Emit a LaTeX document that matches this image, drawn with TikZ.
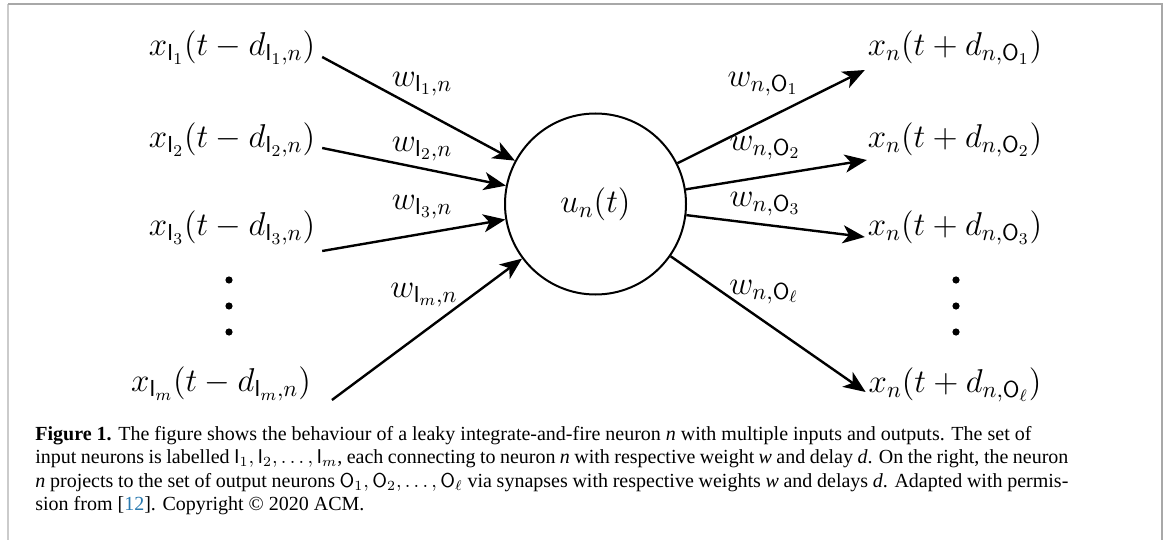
\RequirePackage{fix-cm}
\documentclass[tikz,border=0pt]{standalone}
\usepackage{fontspec}
\newfontfamily\capfont{Liberation Serif}
\usetikzlibrary{arrows.meta}

\definecolor{citeblue}{HTML}{2A7AB0}
\definecolor{framegray}{HTML}{A8A8A8}
\newcommand{\Inp}{\mathsf{I}}
\newcommand{\Outp}{\mathsf{O}}
\newcommand{\bigmath}{\fontsize{16.5}{20}\selectfont}

\begin{document}
\begin{tikzpicture}[
    x=0.5pt, y=-0.5pt,
    neuron/.style={draw, circle, line width=1pt, minimum size=90.5pt, inner sep=0pt, font=\bigmath},
    term/.style={font=\bigmath, inner sep=3.3pt},
    wt/.style={font=\bigmath, inner sep=0pt},
    arr/.style={-{Stealth[length=11pt,width=9pt,inset=3pt]}, line width=1.2pt}
]
\useasboundingbox (0,0) rectangle (1167,540);

% Frame round the figure
\draw[framegray!60, line width=1pt] (8,540) -- (8,4);
\draw[framegray, line width=0.6pt] (8,4) -- (1162,4) -- (1162,540);

% Neuron in the middle
\node[neuron] (n) at (595.5,204) {$u_n(t)$};

% Input terms on the left
\node[term] (i1) at (232,48) {$x_{\Inp_1}(t-d_{\Inp_1,n})$};
\node[term] (i2) at (232,140) {$x_{\Inp_2}(t-d_{\Inp_2,n})$};
\node[term] (i3) at (232,228) {$x_{\Inp_3}(t-d_{\Inp_3,n})$};
\node[term] (im) at (221,384) {$x_{\Inp_m}(t-d_{\Inp_m,n})$};
\foreach \y in {280,306,332} \fill (229,\y) circle (1.8pt);

% Output terms on the right
\node[term] (o1) at (955,48) {$x_n(t+d_{n,\Outp_1})$};
\node[term] (o2) at (955,140) {$x_n(t+d_{n,\Outp_2})$};
\node[term] (o3) at (955,228) {$x_n(t+d_{n,\Outp_3})$};
\node[term] (ol) at (955,385) {$x_n(t+d_{n,\Outp_\ell})$};
\foreach \y in {280,306,332} \fill (956,\y) circle (1.8pt);

% Incoming synapses
\draw[arr] ([yshift=-4.5pt]i1.east) -- (n);
\draw[arr] ([yshift=-4pt]i2.east) -- (n);
\draw[arr] ([yshift=-11.5pt]i3.east) -- (n);
\draw[arr] ([xshift=7pt,yshift=-8pt]im.east) -- (n);

% Outgoing synapses
\draw[arr] (n) -- ([xshift=2pt,yshift=-11pt]o1.west);
\draw[arr] (n) -- ([xshift=3pt,yshift=-10pt]o2.west);
\draw[arr] (n) -- ([xshift=2pt,yshift=-4.5pt]o3.west);
\draw[arr] (n) -- ([xshift=2pt,yshift=-3.5pt]ol.west);

% Weights
\node[wt] (wi1) at (422,84) {$w_{\Inp_1,n}$};
\node[wt] (wi2) at (422,149) {$w_{\Inp_2,n}$};
\node[wt] (wi3) at (422,207) {$w_{\Inp_3,n}$};
\node[wt] (wim) at (424,295) {$w_{\Inp_m,n}$};
\node[wt] (wo1) at (763,84) {$w_{n,\Outp_1}$};
\node[wt] (wo2) at (765,148) {$w_{n,\Outp_2}$};
\node[wt] (wo3) at (765,204) {$w_{n,\Outp_3}$};
\node[wt] (wol) at (764,292) {$w_{n,\Outp_\ell}$};

% Caption
\node[anchor=base west, text width=516.5pt, align=justify, inner sep=0pt,
      font=\capfont\fontsize{10}{11.75}\selectfont] (cap) at (35,440)
  {\textbf{Figure 1.} The figure shows the behaviour of a leaky integrate-and-fire neuron \textit{n} with multiple inputs and outputs. The set of\\
   input neurons is labelled $\Inp_1,\Inp_2,\ldots,\Inp_m$, each connecting to neuron \textit{n} with respective weight \textit{w} and delay \textit{d}. On the right, the neuron\linebreak
   \textit{n} projects to the set of output neurons $\Outp_1,\Outp_2,\ldots,\Outp_\ell$ via synapses with respective weights \textit{w} and delays \textit{d}. Adapted with permis-\linebreak
   sion from [\textcolor{citeblue}{12}]. Copyright © 2020 ACM.};
\end{tikzpicture}
\end{document}
